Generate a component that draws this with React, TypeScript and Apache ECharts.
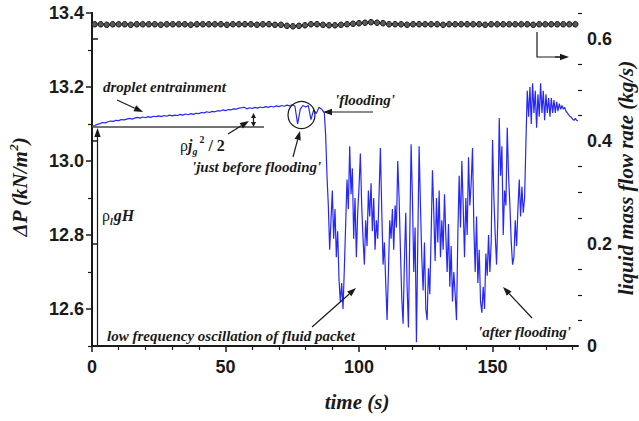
import { useEffect, useRef } from "react";
import * as echarts from "echarts";

// ---- data ----
// pressure drop (kN/m^2), sampled on regular time grids
const smoothStart = 0;
const smoothStep = 1;
const smoothDeltaP = [
  13.095, 13.096, 13.099, 13.101, 13.104, 13.103, 13.106, 13.108, 13.107, 13.11,
  13.109, 13.112, 13.111, 13.113, 13.115, 13.113, 13.116, 13.118, 13.116, 13.119,
  13.117, 13.12, 13.118, 13.121, 13.12, 13.122, 13.12, 13.123, 13.121, 13.124,
  13.122, 13.124, 13.123, 13.126, 13.124, 13.127, 13.125, 13.128, 13.126, 13.129,
  13.128, 13.131, 13.13, 13.133, 13.131, 13.134, 13.133, 13.136, 13.135, 13.138,
  13.136, 13.139, 13.138, 13.141, 13.14, 13.143, 13.144, 13.145, 13.141, 13.144,
  13.142, 13.145, 13.143, 13.146, 13.144, 13.147, 13.145, 13.148, 13.146, 13.149,
  13.147, 13.15, 13.148, 13.151, 13.149, 13.152, 13.148, 13.1, 13.14, 13.15,
  13.146, 13.15, 13.112, 13.138, 13.128, 13.145, 13.14,
];

const floodStart = 87;
const floodStep = 0.5;
const floodDeltaP = [
  13.13, 13.07, 12.96, 12.88, 12.76, 12.84, 12.92, 12.79, 12.87, 12.74,
  12.81, 12.68, 12.62, 12.67, 12.6, 12.71, 12.83, 12.95, 12.87, 13.04,
  12.91, 12.98, 12.79, 12.9, 12.74, 12.86, 12.93, 13.02, 12.88, 12.79,
  12.72, 12.84, 12.77, 12.92, 12.85, 12.94, 12.81, 12.9, 12.76, 12.84,
  12.79, 12.91, 13.035, 12.87, 12.72, 12.78, 12.67, 12.57, 12.7, 12.84,
  12.79, 12.87, 12.76, 12.88, 12.82, 13.0, 12.9, 12.76, 12.63, 12.56,
  12.73, 12.86, 12.66, 12.55, 12.8, 13.045, 12.9, 12.7, 12.82, 12.51,
  12.78, 13.04, 12.88, 12.74, 12.65, 12.78, 12.6, 12.57, 12.71, 12.64,
  12.8, 12.975, 12.86, 12.73, 12.9, 12.78, 12.92, 12.74, 12.84, 12.76,
  12.91, 12.8, 12.7, 12.83, 12.66, 12.77, 12.62, 12.7, 12.64, 12.57,
  12.8, 12.96, 12.82, 13.0, 12.88, 12.74, 12.9, 12.8, 13.01, 12.88,
  12.94, 13.035, 12.82, 12.7, 12.85, 12.67, 12.76, 12.62, 12.59, 12.66,
  12.6, 12.75, 12.69, 12.8, 12.7, 12.78, 13.057, 12.9, 12.8, 12.72,
  12.85, 13.116, 12.96, 13.04, 12.8, 12.92, 12.88, 13.09, 12.96, 12.88,
  12.78, 12.72, 12.74, 12.84, 12.77, 12.87, 12.95, 12.85, 12.93, 12.86,
  12.9, 13.05,
];

const recoverStart = 163;
const recoverStep = 0.5;
const recoverDeltaP = [
  13.19, 13.12, 13.2, 13.1, 13.21, 13.13, 13.19, 13.09, 13.18, 13.12,
  13.21, 13.13, 13.19, 13.11, 13.18, 13.13, 13.17, 13.12, 13.17, 13.13,
  13.165, 13.13, 13.16, 13.135, 13.155, 13.14, 13.15, 13.14, 13.145, 13.135,
  13.13, 13.125, 13.12, 13.118, 13.113, 13.11, 13.115, 13.11, 13.108,
];

// liquid mass flow rate (kg/s)
const flowStart = 1;
const flowStep = 2.25;
const flowRate = [
  0.628, 0.628, 0.627, 0.628, 0.628, 0.628, 0.627, 0.628, 0.628, 0.628,
  0.628, 0.627, 0.628, 0.628, 0.628, 0.628, 0.627, 0.628, 0.628, 0.628,
  0.628, 0.628, 0.627, 0.628, 0.628, 0.628, 0.628, 0.627, 0.628, 0.628,
  0.627, 0.627, 0.625, 0.624, 0.625, 0.626, 0.628, 0.628, 0.627, 0.626,
  0.626, 0.627, 0.628, 0.629, 0.63, 0.631, 0.632, 0.631, 0.63, 0.628,
  0.628, 0.628, 0.627, 0.628, 0.628, 0.628, 0.628, 0.628, 0.627, 0.628,
  0.628, 0.628, 0.628, 0.628, 0.628, 0.627, 0.628, 0.628, 0.628, 0.628,
  0.628, 0.628, 0.628, 0.627, 0.628, 0.628, 0.628, 0.628, 0.628, 0.628,
  0.628,
];

const xMajorTicks = [0, 50, 100, 150];
const xMinorTicks = [10, 20, 30, 40, 60, 70, 80, 90, 110, 120, 130, 140, 160, 170, 180];
const leftMajorTicks = [12.6, 12.8, 13.0, 13.2, 13.4];
const leftMinorTicks = [12.5, 12.7, 12.9, 13.1, 13.3];
const rightMajorTicks = [0, 0.2, 0.4, 0.6];
const rightMinorTicks = [0.05, 0.1, 0.15, 0.25, 0.3, 0.35, 0.45, 0.5, 0.55, 0.65];

const toPairs = (start: number, step: number, vals: number[]) =>
  vals.map((v, i) => [+(start + i * step).toFixed(3), v]);

const SERIF = "'Liberation Serif', 'Times New Roman', serif";
const SANS = "'Liberation Sans', Arial, sans-serif";
const INK = "#1a1a1a";

function arrow(x1: number, y1: number, x2: number, y2: number, head = 9, half = 3.2) {
  const dx = x2 - x1;
  const dy = y2 - y1;
  const len = Math.sqrt(dx * dx + dy * dy);
  const ux = dx / len;
  const uy = dy / len;
  const bx = x2 - ux * head;
  const by = y2 - uy * head;
  return [
    {
      type: "line",
      shape: { x1, y1, x2: bx, y2: by },
      style: { stroke: INK, lineWidth: 1.2 },
      z: 100,
    },
    {
      type: "polygon",
      shape: {
        points: [
          [x2, y2],
          [bx - uy * half, by + ux * half],
          [bx + uy * half, by - ux * half],
        ],
      },
      style: { fill: INK },
      z: 100,
    },
  ];
}

function label(text: string, x: number, y: number, size = 15) {
  return {
    type: "text",
    x,
    y,
    style: {
      text,
      fill: INK,
      font: `italic bold ${size}px ${SERIF}`,
      align: "left",
      verticalAlign: "middle",
    },
    z: 100,
  };
}

export default function App() {
  const ref = useRef<HTMLDivElement>(null);

  useEffect(() => {
    if (!ref.current) return;
    const chart = echarts.init(ref.current, null, { renderer: "svg" });

    const deltaP = [
      ...toPairs(smoothStart, smoothStep, smoothDeltaP),
      ...toPairs(floodStart, floodStep, floodDeltaP),
      ...toPairs(recoverStart, recoverStep, recoverDeltaP),
    ];
    const flow = toPairs(flowStart, flowStep, flowRate);

    const axisLine = { show: true, lineStyle: { color: INK, width: 2 } };
    const tickLabel = {
      color: INK,
      fontFamily: SANS,
      fontWeight: "bold" as const,
      fontSize: 18,
    };

    const graphics: any[] = [
      // baseline and vertical arrow (rho_l g H)
      {
        type: "line",
        shape: { x1: 92, y1: 127, x2: 264, y2: 127 },
        style: { stroke: "#444", lineWidth: 1.5 },
        z: 100,
      },
      ...arrow(97.5, 345, 97.5, 128),
      // double arrow rho j^2/2
      ...arrow(253.5, 120, 253.5, 113, 5, 2.5),
      ...arrow(253.5, 120, 253.5, 127, 5, 2.5),
      ...arrow(117, 100, 143, 112),
      ...arrow(228, 134, 249, 121),
      ...arrow(293, 157, 300, 131),
      ...arrow(373, 112, 323, 112),
      ...arrow(312, 327, 356, 288),
      ...arrow(532, 318, 503, 287),
      {
        type: "polyline",
        shape: { points: [[537, 32], [537, 57], [560, 57]] },
        style: { stroke: INK, lineWidth: 1.2, fill: null },
        z: 100,
      },
      ...arrow(555, 57, 569, 57),
      {
        type: "circle",
        shape: { cx: 301.5, cy: 115, r: 13.5 },
        style: { stroke: INK, lineWidth: 1.2, fill: null },
        z: 100,
      },
      label("droplet entrainment", 103, 87),
      label("'just before flooding'", 192, 167),
      label("'flooding'", 335, 100),
      label("low frequency oscillation of fluid packet", 107, 336),
      label("'after flooding'", 478, 332),
      {
        type: "text",
        x: 180,
        y: 145,
        style: {
          text: "{r|ρ}{j|j}{g|g}{s|2}{t| / 2}",
          fill: INK,
          align: "left",
          verticalAlign: "middle",
          rich: {
            r: { font: `16px ${SERIF}`, fill: INK, lineHeight: 22 },
            j: { font: `italic bold 16px ${SERIF}`, fill: INK, lineHeight: 22 },
            g: { font: `italic bold 10px ${SERIF}`, fill: INK, verticalAlign: "bottom", padding: [0, 1, 0, 0] },
            s: { font: `bold 10px ${SERIF}`, fill: INK, verticalAlign: "top", padding: [0, 0, 0, 1] },
            t: { font: `bold 16px ${SERIF}`, fill: INK, lineHeight: 22 },
          },
        },
        z: 100,
      },
      {
        type: "text",
        x: 102,
        y: 215,
        style: {
          text: "{r|ρ}{l|l}{t|gH}",
          fill: INK,
          align: "left",
          verticalAlign: "middle",
          rich: {
            r: { font: `16px ${SERIF}`, fill: INK, lineHeight: 22 },
            l: { font: `italic bold 10px ${SERIF}`, fill: INK, verticalAlign: "bottom", padding: [0, 1, 0, 0] },
            t: { font: `italic bold 16px ${SERIF}`, fill: INK, lineHeight: 22 },
          },
        },
        z: 100,
      },
      // axis names
      {
        type: "text",
        x: 357,
        y: 402,
        style: {
          text: "time (s)",
          fill: INK,
          font: `italic bold 21px ${SERIF}`,
          align: "center",
          verticalAlign: "middle",
        },
        z: 100,
      },
      {
        type: "text",
        x: 20,
        y: 187,
        rotation: Math.PI / 2,
        style: {
          text: "{a|ΔP (kN/m}{s|2}{a|)}",
          fill: INK,
          align: "center",
          verticalAlign: "middle",
          rich: {
            a: { font: `italic bold 21px ${SERIF}`, fill: INK, lineHeight: 26 },
            s: { font: `italic bold 13px ${SERIF}`, fill: INK, verticalAlign: "top" },
          },
        },
        z: 100,
      },
      {
        type: "text",
        x: 626,
        y: 178,
        rotation: Math.PI / 2,
        style: {
          text: "liquid mass flow rate (kg/s)",
          fill: INK,
          font: `italic bold 21px ${SERIF}`,
          align: "center",
          verticalAlign: "middle",
        },
        z: 100,
      },
    ];

    const option: any = {
      animation: false,
      backgroundColor: "#ffffff",
      grid: {
        left: 92,
        right: 61,
        top: 13,
        bottom: 75,
        containLabel: false,
        outerBoundsMode: "none",
      },
      xAxis: [
        {
          type: "value",
          min: 0,
          max: 182,
          position: "bottom",
          splitLine: { show: false },
          axisLine: axisLine,
          axisTick: { show: true, inside: false, length: 6, customValues: xMajorTicks, lineStyle: { color: INK, width: 1.5 } },
          axisLabel: { ...tickLabel, margin: 12, customValues: xMajorTicks, formatter: (v: number) => String(v) },
        },
        {
          type: "value",
          min: 0,
          max: 182,
          position: "bottom",
          splitLine: { show: false },
          axisLine: { show: false },
          axisTick: { show: true, inside: false, length: 4, customValues: xMinorTicks, lineStyle: { color: INK, width: 1.2 } },
          axisLabel: { show: false },
        },
      ],
      yAxis: [
        {
          type: "value",
          min: 12.5,
          max: 13.4,
          position: "left",
          splitLine: { show: false },
          axisLine: axisLine,
          axisTick: { show: true, inside: false, length: 6, customValues: leftMajorTicks, lineStyle: { color: INK, width: 1.5 } },
          axisLabel: { ...tickLabel, margin: 8, customValues: leftMajorTicks, formatter: (v: number) => v.toFixed(1) },
        },
        {
          type: "value",
          min: 0,
          max: 0.65,
          position: "right",
          splitLine: { show: false },
          axisLine: axisLine,
          axisTick: { show: true, inside: false, length: 6, customValues: rightMajorTicks, lineStyle: { color: INK, width: 1.5 } },
          axisLabel: {
            ...tickLabel,
            margin: 9,
            customValues: rightMajorTicks,
            formatter: (v: number) => (Math.abs(v) < 1e-9 ? "0" : v.toFixed(1)),
          },
        },
        {
          type: "value",
          min: 12.5,
          max: 13.4,
          position: "left",
          splitLine: { show: false },
          axisLine: { show: false },
          axisTick: { show: true, inside: false, length: 4, customValues: leftMinorTicks, lineStyle: { color: INK, width: 1.2 } },
          axisLabel: { show: false },
        },
        {
          type: "value",
          min: 0,
          max: 0.65,
          position: "right",
          splitLine: { show: false },
          axisLine: { show: false },
          axisTick: { show: true, inside: false, length: 4, customValues: rightMinorTicks, lineStyle: { color: INK, width: 1.2 } },
          axisLabel: { show: false },
        },
      ],
      series: [
        {
          name: "ΔP",
          type: "line",
          xAxisIndex: 0,
          yAxisIndex: 0,
          data: deltaP,
          showSymbol: false,
          symbol: "none",
          lineStyle: { color: "#2626ff", width: 1.2 },
          z: 3,
        },
        {
          name: "liquid mass flow rate",
          type: "scatter",
          xAxisIndex: 0,
          yAxisIndex: 1,
          data: flow,
          symbol: "circle",
          symbolSize: 5.5,
          itemStyle: { color: "#5a5a5a", borderColor: "#111", borderWidth: 1, opacity: 1 },
          z: 4,
        },
      ],
      graphic: graphics,
    };

    chart.setOption(option);
    return () => chart.dispose();
  }, []);

  return (
    <div
      ref={ref}
      style={{ position: "absolute", left: 0, top: 0, width: 639, height: 421, background: "#fff" }}
    />
  );
}
